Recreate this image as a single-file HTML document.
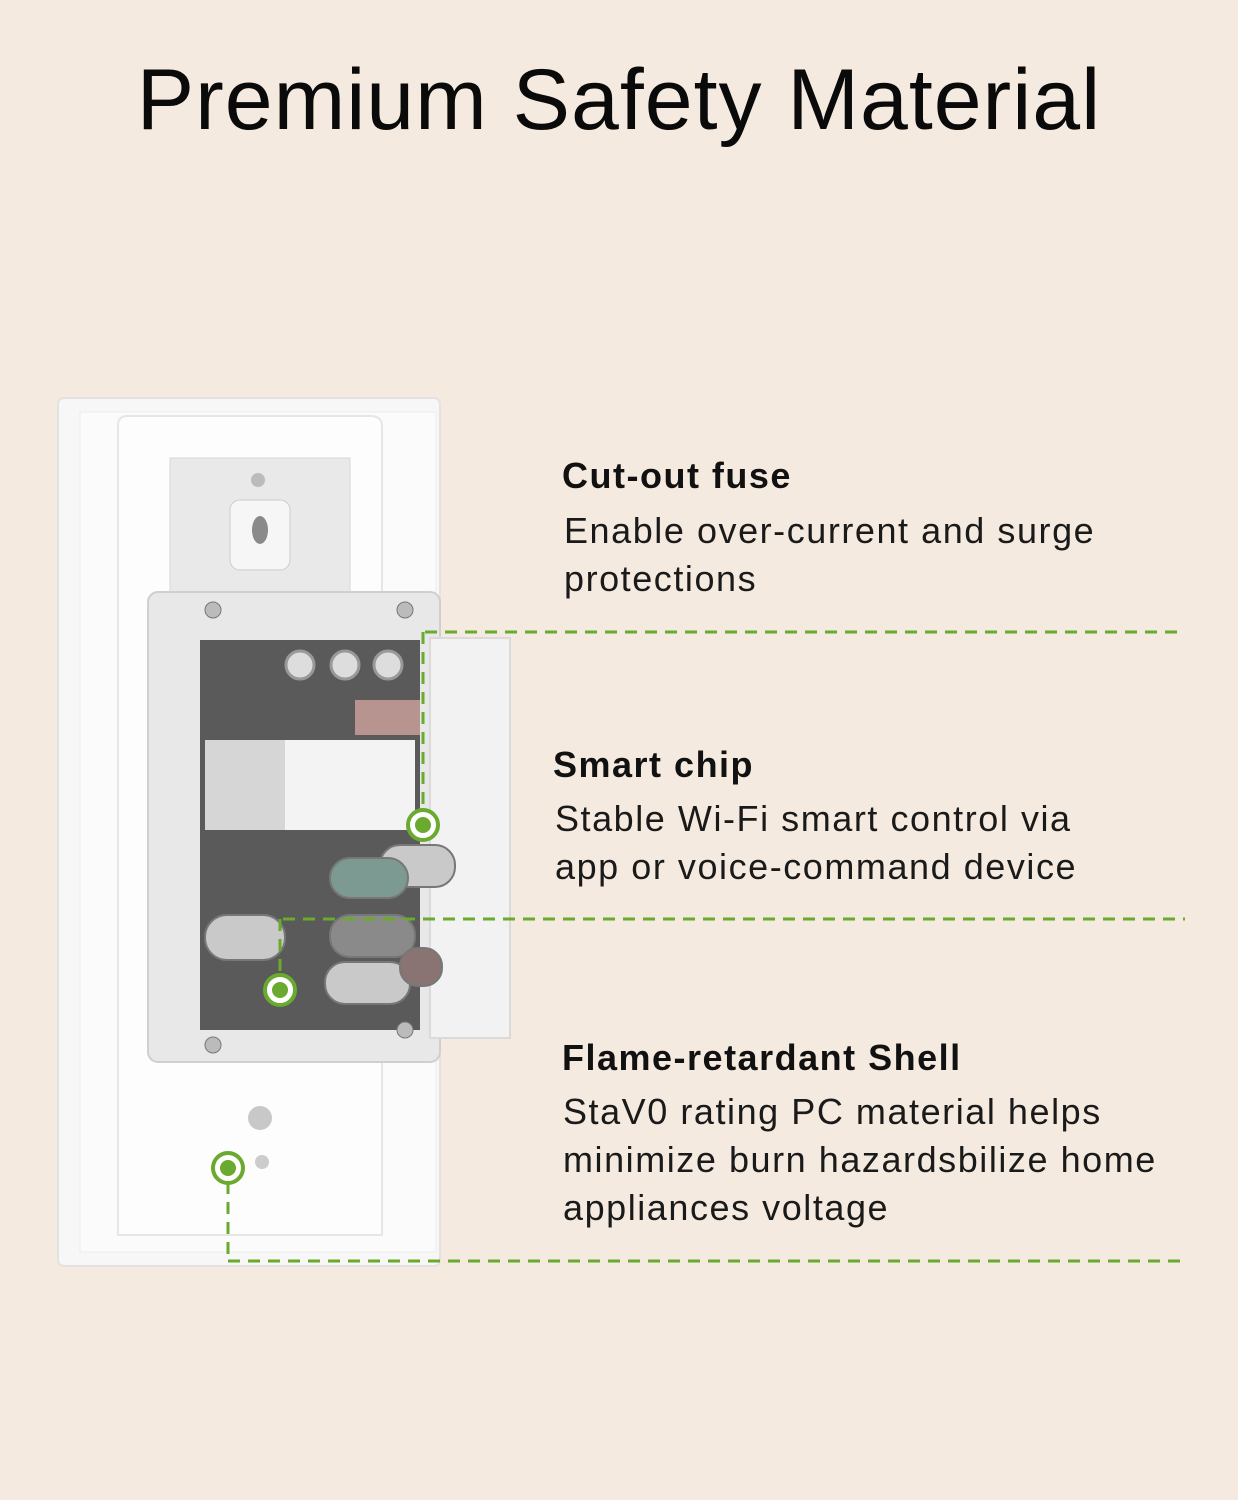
<!DOCTYPE html>
<html><head><meta charset="utf-8"><style>
html,body{margin:0;padding:0;}
body{width:1238px;height:1500px;background:#f4eadf;position:relative;overflow:hidden;font-family:"Liberation Sans",sans-serif;color:#111;}
.t{position:absolute;white-space:nowrap;}
h1{position:absolute;left:0;width:1238px;top:51px;margin:0;text-align:center;font-weight:normal;font-size:86px;letter-spacing:1px;color:#0a0a0a;}
.h{font-weight:bold;font-size:36px;letter-spacing:1.5px;}
.d{font-size:36px;line-height:48px;color:#1a1a1a;letter-spacing:1.55px;}
</style></head><body>
<h1>Premium Safety Material</h1>
<svg width="1238" height="1500" style="position:absolute;left:0;top:0">
 <rect x="58" y="398" width="382" height="868" rx="6" fill="#f7f7f7" stroke="#e2e2e2" stroke-width="2"/>
 <rect x="80" y="412" width="356" height="840" fill="#fbfbfb" stroke="#ececec"/>
 <path d="M118 425 Q118 416 128 416 L370 416 Q382 416 382 426 L382 1235 L118 1235 Z" fill="#fdfdfd" stroke="#e6e6e6" stroke-width="2"/>
 <rect x="170" y="458" width="180" height="150" fill="#e9e9e9" stroke="#d8d8d8"/>
 <rect x="230" y="500" width="60" height="70" rx="10" fill="#f6f6f6" stroke="#ccc"/>
 <ellipse cx="260" cy="530" rx="8" ry="14" fill="#8a8a8a"/>
 <circle cx="258" cy="480" r="7" fill="#bbb"/>
 <circle cx="260" cy="1118" r="12" fill="#c8c8c8"/>
 <circle cx="262" cy="1162" r="7" fill="#ccc"/>
 <rect x="148" y="592" width="292" height="470" rx="10" fill="#e8e8e8" stroke="#cfcfcf" stroke-width="2"/>
 <rect x="430" y="638" width="80" height="400" fill="#f2f2f2" stroke="#dadada" stroke-width="2"/>
 <rect x="200" y="640" width="220" height="390" fill="#5a5a5a"/>
 <rect x="205" y="740" width="210" height="90" fill="#f3f3f3"/>
 <rect x="205" y="740" width="80" height="90" fill="#d6d6d6"/>
 <rect x="355" y="700" width="65" height="35" fill="#b79490"/>
 <g fill="#ddd" stroke="#999" stroke-width="3">
  <circle cx="300" cy="665" r="14"/><circle cx="345" cy="665" r="14"/><circle cx="388" cy="665" r="14"/>
 </g>
 <g fill="#c9c9c9" stroke="#777" stroke-width="2">
  <rect x="380" y="845" width="75" height="42" rx="20"/>
  <rect x="330" y="858" width="78" height="40" rx="20" fill="#7c9a92"/>
  <rect x="205" y="915" width="80" height="45" rx="22"/>
  <rect x="330" y="915" width="85" height="42" rx="20" fill="#8a8a8a"/>
  <rect x="325" y="962" width="85" height="42" rx="20"/>
  <rect x="400" y="948" width="42" height="38" rx="18" fill="#8a7373"/>
 </g>
 <g fill="#bbb" stroke="#777"><circle cx="213" cy="610" r="8"/><circle cx="405" cy="610" r="8"/><circle cx="213" cy="1045" r="8"/><circle cx="405" cy="1030" r="8"/></g>
 <g stroke="#6aaa2e" stroke-width="3" stroke-dasharray="12 8" fill="none">
  <path d="M425 632 H1185"/><path d="M423 632 V812"/>
  <path d="M283 919 H1185"/><path d="M280 919 V977"/>
  <path d="M228 1261 H1185"/><path d="M228 1182 V1261"/>
 </g>
 <g fill="#fff" stroke="#6aaa2e" stroke-width="4">
  <circle cx="423" cy="825" r="15"/><circle cx="280" cy="990" r="15"/><circle cx="228" cy="1168" r="15"/>
 </g>
 <g fill="#6aaa2e"><circle cx="423" cy="825" r="8"/><circle cx="280" cy="990" r="8"/><circle cx="228" cy="1168" r="8"/></g>
</svg>
<div class="t h" style="left:562px;top:455px">Cut-out fuse</div>
<div class="t d" style="left:564px;top:507px">Enable over-current and surge<br>protections</div>
<div class="t h" style="left:553px;top:744px">Smart chip</div>
<div class="t d" style="left:555px;top:795px">Stable Wi-Fi smart control via<br>app or voice-command device</div>
<div class="t h" style="left:562px;top:1037px">Flame-retardant Shell</div>
<div class="t d" style="left:563px;top:1088px">StaV0 rating PC material helps<br>minimize burn hazardsbilize home<br>appliances voltage</div>
</body></html>
